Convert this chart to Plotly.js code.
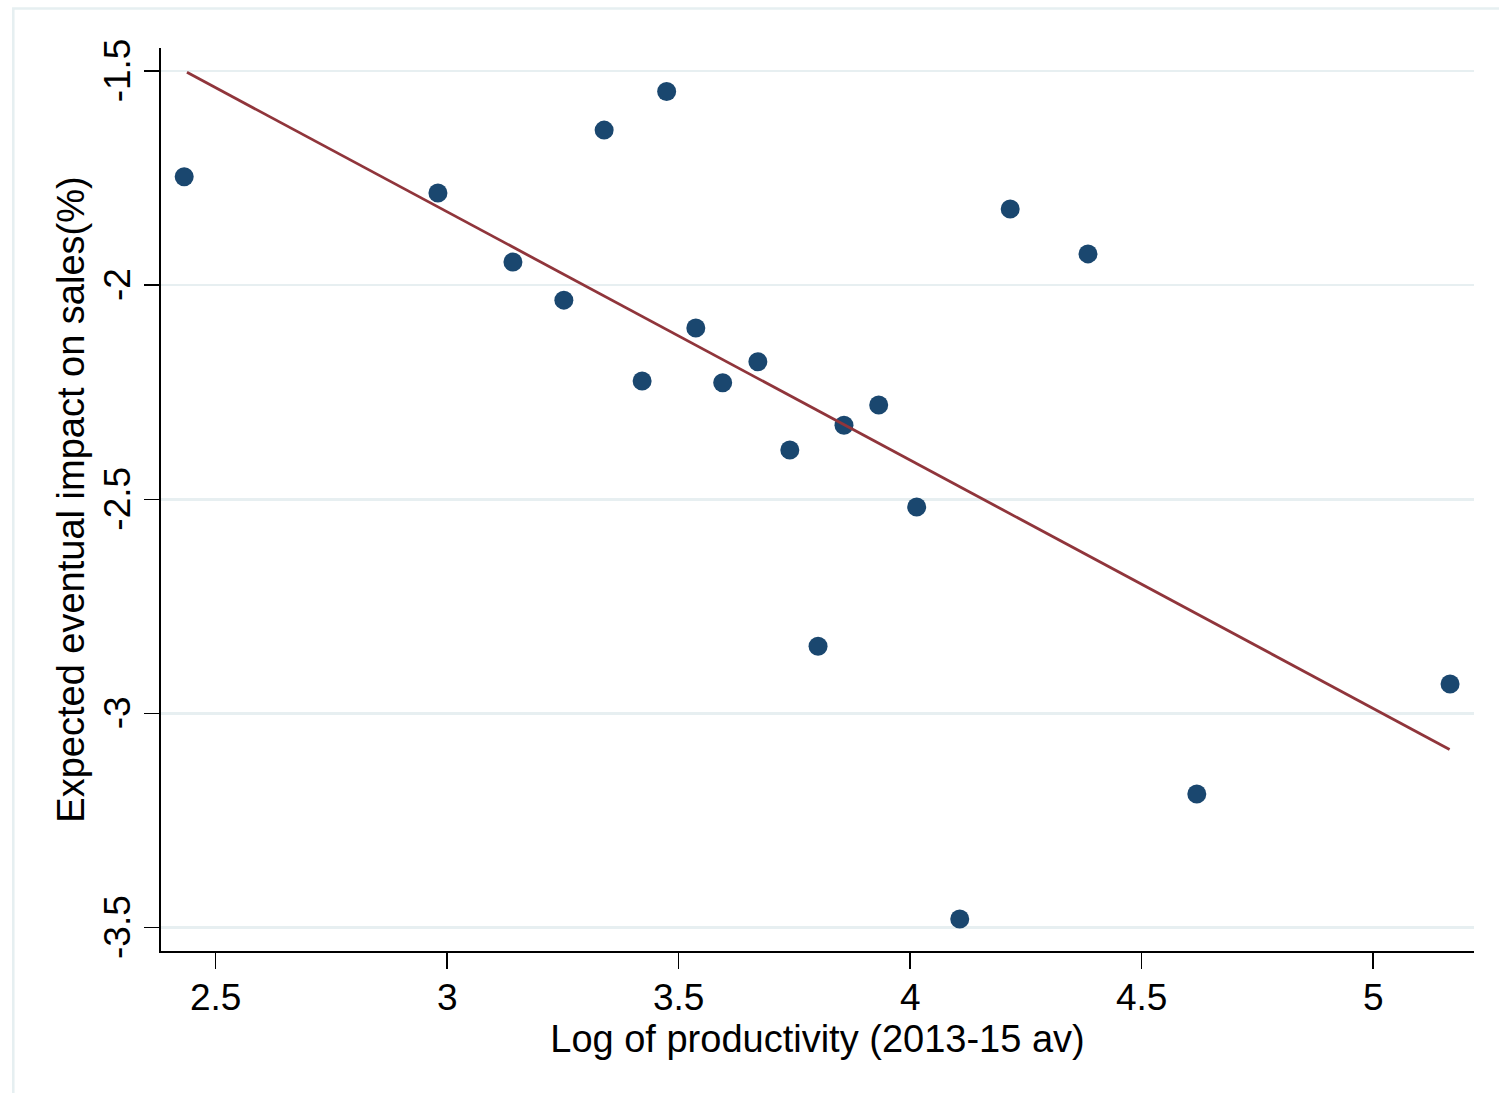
<!DOCTYPE html>
<html>
<head>
<meta charset="utf-8">
<script src="https://cdn.plot.ly/plotly-3.0.1.min.js"></script>
<style>html,body{margin:0;padding:0;background:#fff;}#chart{width:1499px;height:1093px;}</style>
</head>
<body>
<div id="chart"></div>
<script>
// Scatter data: log productivity vs expected eventual impact on sales (%)
var logProductivity = [2.432, 2.980, 3.142, 3.252, 3.339, 3.421, 3.474, 3.537, 3.595, 3.671,
                       3.740, 3.801, 3.857, 3.932, 4.014, 4.107, 4.216, 4.384, 4.619, 5.166];
var salesImpact = [-1.747, -1.785, -1.946, -2.035, -1.638, -2.224, -1.548, -2.100, -2.228, -2.179,
                   -2.385, -2.843, -2.327, -2.280, -2.518, -3.480, -1.822, -1.927, -3.188, -2.931];
// Fitted line endpoints
var fitX = [2.438, 5.165];
var fitY = [-1.503, -3.084];
// Tick values and labels
var xTickVals = [2.5, 3, 3.5, 4, 4.5, 5];
var xTickText = ["2.5", "3", "3.5", "4", "4.5", "5"];
var yTickVals = [-1.5, -2, -2.5, -3, -3.5];
var yTickText = ["-1.5", "-2", "-2.5", "-3", "-3.5"];

var font = "Liberation Sans, Arial, Helvetica, sans-serif";

var traces = [
  {
    x: logProductivity, y: salesImpact, type: "scatter", mode: "markers",
    marker: {color: "#1a476f", size: 19, line: {width: 0}},
    hoverinfo: "skip"
  },
  {
    x: fitX, y: fitY, type: "scatter", mode: "lines",
    line: {color: "#90353b", width: 2.8},
    hoverinfo: "skip"
  }
];

var layout = {
  width: 1499, height: 1093,
  margin: {l: 161, r: 25, t: 48, b: 142, pad: 0},
  paper_bgcolor: "#ffffff", plot_bgcolor: "#ffffff",
  showlegend: false,
  font: {family: font, color: "#000000", size: 37},
  xaxis: {
    range: [2.3819, 5.2177],
    tickmode: "array", tickvals: xTickVals, ticktext: xTickText,
    showline: true, linecolor: "#000000", linewidth: 1.6,
    ticks: "outside", ticklen: 16, tickwidth: 1.6, tickcolor: "#000000",
    ticklabelstandoff: -3,
    showgrid: false, zeroline: false,
    tickfont: {family: font, size: 37, color: "#000000"},
    title: {text: "Log of productivity (2013-15 av)", font: {family: font, size: 38, color: "#000000"}, standoff: 0}
  },
  yaxis: {
    range: [-3.5546, -1.4463],
    tickmode: "array", tickvals: yTickVals, ticktext: yTickText,
    tickangle: -90,
    ticklabelshift: 5,
    showline: true, linecolor: "#000000", linewidth: 1.6,
    ticks: "outside", ticklen: 15, tickwidth: 1.6, tickcolor: "#000000",
    showgrid: true, gridcolor: "#e7eff1", gridwidth: 2.6,
    zeroline: false,
    tickfont: {family: font, size: 37, color: "#000000"},
    title: {text: "Expected eventual impact on sales(%)", font: {family: font, size: 38, color: "#000000"}, standoff: 0}
  },
  shapes: [
    {type: "rect", xref: "paper", yref: "paper",
     x0: -0.1125, x1: 1.05, y0: -0.2, y1: 1.0437,
     line: {color: "#e6eff1", width: 2.5}, fillcolor: "rgba(0,0,0,0)", layer: "below"}
  ]
};

Plotly.newPlot("chart", traces, layout, {displayModeBar: false, staticPlot: true});
</script>
</body>
</html>
